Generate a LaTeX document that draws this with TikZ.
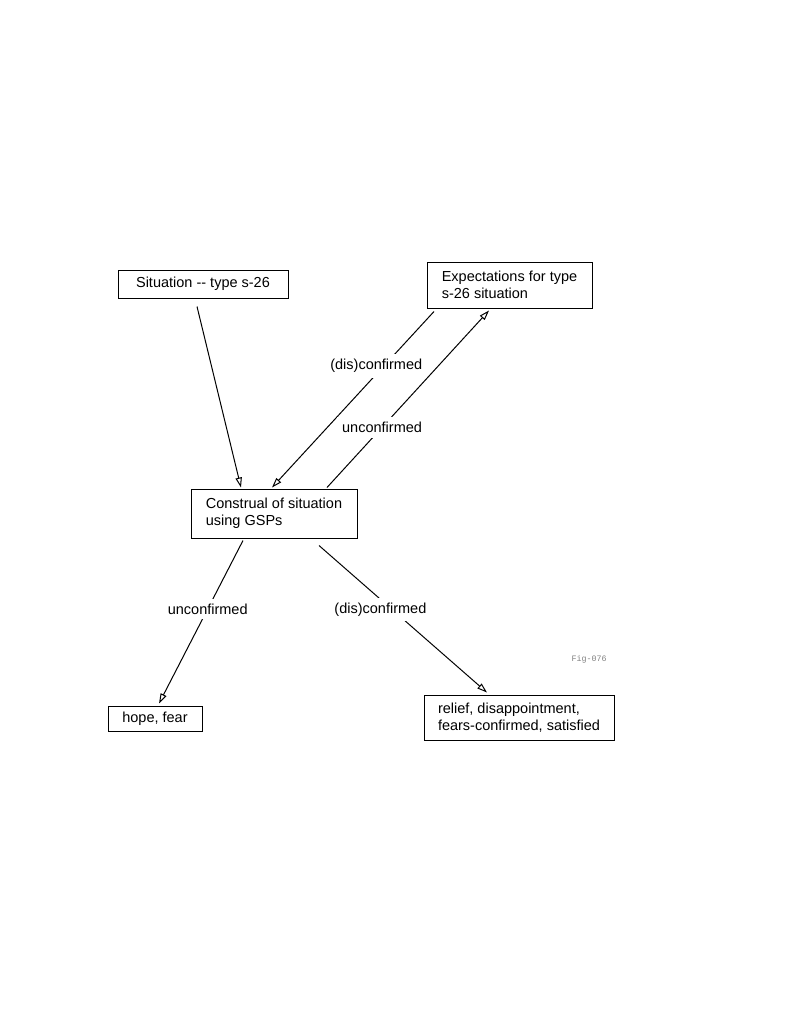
\documentclass[tikz,border=0pt]{standalone}
\usepackage{fontspec}
\setmainfont{Liberation Sans}
\newfontfamily\figfont{Liberation Mono}
\usetikzlibrary{arrows.meta,calc,positioning}

\begin{document}
\begin{tikzpicture}[x=0.6pt,y=-0.6pt,line width=0.6pt,
  >={Triangle[open,length=6pt,width=3.8pt]},
  box/.style={draw,align=left,inner sep=0pt,font=\fontsize{8.7}{10.3}\selectfont},
  lbl/.style={fill=white,inner sep=3pt,font=\fontsize{8.7}{10.3}\selectfont}]
\useasboundingbox (0,0) rectangle (800,1035);
\node[box,minimum width=170*0.6pt,minimum height=28*0.6pt] (sit) at (203,284) {Situation -{}- type s-26};
\node[box,minimum width=165*0.6pt,minimum height=46*0.6pt] (exp) at (509.5,285) {Expectations for type\\s-26 situation};
\node[box,minimum width=166*0.6pt,minimum height=49*0.6pt] (con) at (274,513.5) {Construal of situation\\using GSPs};
\node[box,minimum width=94*0.6pt,minimum height=25*0.6pt] (hope) at (155,718.5) {hope, fear};
\node[box,minimum width=190*0.6pt,minimum height=45*0.6pt] (rel) at (519,717.5) {relief, disappointment,\\fears-confirmed, satisfied};
\node[text=gray,font=\figfont\fontsize{5}{6}\selectfont] (fig) at (589,659) {Fig-076};
% arrows
\draw[->] ($(sit.south)+(-6,8)$) -- ($(con.north)+(-33,-1)$);
\draw[->] ($(exp.south)+(-75.5,3)$) -- ($(con.north)+(-2,-1)$) node[lbl,pos=0.31,xshift=-4.5pt] {(dis)confirmed};
\draw[->] ($(con.north)+(53,-1)$) -- ($(exp.south)+(-20.5,2)$) node[lbl,pos=0.34] {unconfirmed};
\draw[->] ($(con.south)+(-31,2)$) -- ($(hope.north)+(4,-2)$) node[lbl,pos=0.42] {unconfirmed};
\draw[->] ($(con.south)+(45,7)$) -- ($(rel.north)+(-32,-2)$) node[lbl,pos=0.435,xshift=-7pt] {(dis)confirmed};
\end{tikzpicture}
\end{document}
